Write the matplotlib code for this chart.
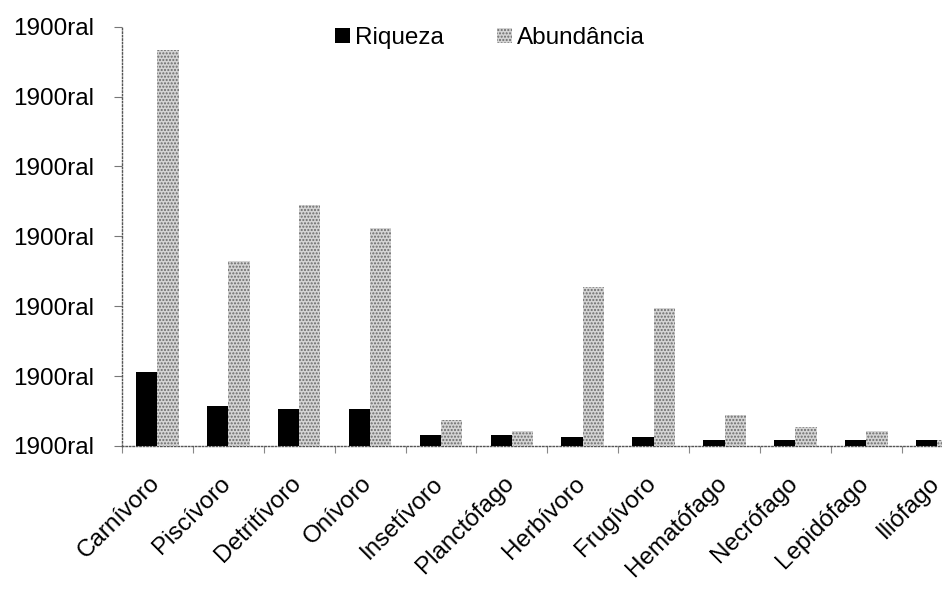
import numpy as np
import matplotlib
matplotlib.use("Agg")
import matplotlib.pyplot as plt
from matplotlib.transforms import ScaledTranslation
from matplotlib.patches import Patch

categories = ["Carnívoro", "Piscívoro", "Detritívoro", "Onívoro", "Insetívoro",
              "Planctófago", "Herbívoro", "Frugívoro", "Hematófago", "Necrófago",
              "Lepidófago", "Iliófago"]
riqueza = [1.06, 0.57, 0.53, 0.53, 0.16, 0.16, 0.13, 0.13, 0.09, 0.09, 0.09, 0.09]
abundancia = [5.66, 2.65, 3.45, 3.12, 0.37, 0.21, 2.28, 1.98, 0.44, 0.27, 0.21, 0.09]
ytick_values = [0, 1, 2, 3, 4, 5, 6]
ytick_labels = ["1900ral"] * 7

plt.rcParams['font.family'] = ['Liberation Sans', 'DejaVu Sans']
plt.rcParams['hatch.linewidth'] = 1.0

fig = plt.figure(figsize=(9.42, 5.89), dpi=100)
ax = fig.add_axes([0.1295, 0.2428, 0.903, 0.712])

x = np.arange(len(categories))
w = 0.3
ax.bar(x - w / 2, riqueza, width=w, color="black", linewidth=0, zorder=3)
ax.bar(x + w / 2, abundancia, width=w, facecolor="#d4d4d4", edgecolor="#6a6a6a",
       hatch=".....", linewidth=0, zorder=3)

ax.set_xlim(-0.5, len(categories) - 0.5)
ax.set_ylim(0, 6)

for side in ("top", "right"):
    ax.spines[side].set_visible(False)
for side in ("left", "bottom"):
    ax.spines[side].set_linestyle((0, (1, 1.5)))
    ax.spines[side].set_color("#555555")
    ax.spines[side].set_linewidth(1)

ax.set_yticks(ytick_values)
ax.set_yticklabels(ytick_labels, fontsize=17.5)
ax.tick_params(axis="y", length=6, width=0.8, color="#777777", pad=14)

ax.set_xticks(x)
ax.set_xticklabels(categories, fontsize=17.5, rotation=45, ha="right", va="top",
                   rotation_mode="anchor")
ax.set_xticks(np.arange(len(categories) + 1) - 0.5, minor=True)
ax.tick_params(axis="x", which="major", length=0, pad=19)
ax.tick_params(axis="x", which="minor", length=5, width=0.8, color="#888888")
shift = ScaledTranslation(-0.09, 0.0, fig.dpi_scale_trans)
for lbl in ax.get_xticklabels():
    lbl.set_transform(lbl.get_transform() + shift)

handles = [Patch(facecolor="black", linewidth=0, label="Riqueza"),
           Patch(facecolor="#d4d4d4", edgecolor="#6a6a6a", hatch=".....",
                 linewidth=0, label="Abundância")]
fig.legend(handles=handles, loc="center", bbox_to_anchor=(0.52, 0.935), ncol=2,
           frameon=False, fontsize=17.5, handlelength=0.6, handleheight=0.6,
           handletextpad=0.2, columnspacing=2.2)

fig.savefig("out.png", dpi=100)
